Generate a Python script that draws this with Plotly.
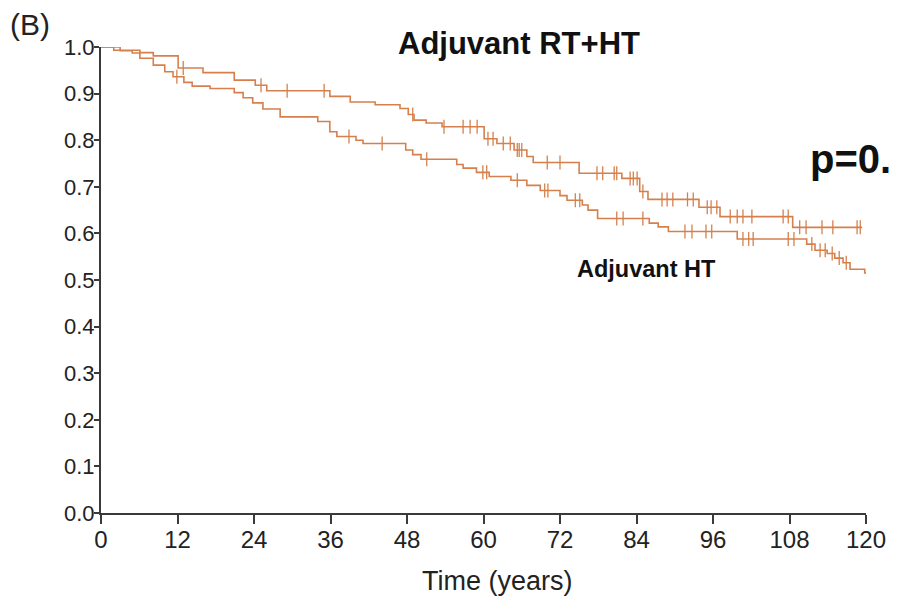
import numpy as np
import plotly.graph_objects as go

# ---------------- data ----------------
# Adjuvant RT + HT (upper curve): event times (months) and survival after each step
rt_times = [0, 2.0, 6.1, 8.2, 12.1, 16.0, 20.9, 24.2, 26.0, 35.9, 39.1, 43.0, 46.9, 48.2, 49.1,
            51.0, 53.5, 60.1, 62.1, 64.8, 66.8, 67.8, 75.0, 81.7, 84.5, 85.8, 93.8, 97.1, 108.5]
rt_surv = [1.0, 0.993, 0.988, 0.981, 0.955, 0.945, 0.929, 0.918, 0.906, 0.894, 0.882, 0.876, 0.868,
           0.855, 0.843, 0.837, 0.829, 0.803, 0.793, 0.779, 0.765, 0.752, 0.729, 0.718, 0.690,
           0.673, 0.656, 0.636, 0.613]
rt_end = 119.4
rt_censor = [12.9, 25.1, 29.2, 35.0, 48.9, 53.8, 56.8, 57.9, 59.0, 60.7, 61.5, 63.1, 64.2, 65.3,
             65.6, 66.0, 70.0, 72.0, 77.8, 78.7, 80.5, 80.9, 83.0, 83.5, 84.1, 85.0, 88.0, 88.8,
             89.7, 92.0, 92.9, 95.1, 95.7, 96.6, 98.7, 99.8, 100.7, 102.1, 107.0, 107.8, 109.6,
             110.6, 113.1, 114.8, 118.6, 119.1]

# Adjuvant HT (lower curve)
ht_times = [0, 3.0, 4.9, 6.1, 8.2, 10.0, 11.3, 13.0, 14.3, 17.1, 20.9, 22.3, 23.8, 25.4, 28.1,
            34.0, 35.9, 37.0, 40.0, 41.1, 47.8, 48.9, 50.2, 55.8, 56.8, 58.9, 60.9, 64.3, 66.8,
            68.9, 72.0, 73.1, 75.5, 76.4, 77.9, 86.0, 87.4, 89.0, 99.8, 110.7, 112.0, 113.9,
            115.1, 116.4, 117.5, 119.8]
ht_surv = [1.0, 0.992, 0.987, 0.976, 0.961, 0.947, 0.936, 0.924, 0.916, 0.911, 0.902, 0.891,
           0.880, 0.867, 0.850, 0.840, 0.818, 0.808, 0.800, 0.793, 0.779, 0.769, 0.759, 0.748,
           0.740, 0.731, 0.722, 0.714, 0.703, 0.692, 0.681, 0.671, 0.661, 0.650, 0.632, 0.622,
           0.614, 0.604, 0.588, 0.577, 0.564, 0.557, 0.547, 0.537, 0.523, 0.515]
ht_end = 120.0
ht_censor = [11.9, 38.9, 44.1, 51.1, 59.9, 60.5, 65.3, 69.6, 70.1, 74.4, 75.1, 80.9, 81.9, 85.0,
             91.6, 92.7, 94.9, 95.8, 100.7, 101.6, 102.3, 107.8, 108.7, 111.5, 112.8, 113.6,
             114.7, 115.8, 116.9]

x_ticks = [0, 12, 24, 36, 48, 60, 72, 84, 96, 108, 120]
y_ticks = [0.0, 0.1, 0.2, 0.3, 0.4, 0.5, 0.6, 0.7, 0.8, 0.9, 1.0]

# ---------------- styling ----------------
CURVE = "#d5804c"
AXIS = "#3a3a3a"
FONT = "Liberation Sans, Arial, sans-serif"


def step_value(times, surv, t):
    idx = np.searchsorted(np.asarray(times), t, side="right") - 1
    return surv[max(idx, 0)]


fig = go.Figure()
for times, surv, end, cens in [(rt_times, rt_surv, rt_end, rt_censor),
                               (ht_times, ht_surv, ht_end, ht_censor)]:
    xs = list(times) + [end]
    ys = list(surv) + [surv[-1]]
    fig.add_trace(go.Scatter(x=xs, y=ys, mode="lines", line=dict(color=CURVE, width=1.6, shape="hv"),
                             showlegend=False, hoverinfo="skip"))
    cy = [step_value(times, surv, c) for c in cens]
    fig.add_trace(go.Scatter(x=cens, y=cy, mode="markers",
                             marker=dict(symbol="line-ns", size=10, line=dict(color=CURVE, width=1.3)),
                             showlegend=False, hoverinfo="skip", cliponaxis=False))

fig.update_layout(
    width=897, height=600,
    margin=dict(l=101, r=31, t=47, b=87),
    paper_bgcolor="white", plot_bgcolor="white",
    font=dict(family=FONT, color="#222222"),
    xaxis=dict(range=[0, 120], tickvals=x_ticks, ticktext=[str(v) for v in x_ticks],
               showgrid=False, zeroline=False, showline=True, linecolor=AXIS, linewidth=2,
               ticks="outside", ticklen=9, tickwidth=2, tickcolor=AXIS, ticklabelstandoff=-5,
               tickfont=dict(size=24, family=FONT, color="#222222")),
    yaxis=dict(range=[0, 1], tickvals=y_ticks, ticktext=[f"{v:.1f}" for v in y_ticks],
               showgrid=False, zeroline=False, showline=True, linecolor=AXIS, linewidth=2,
               ticks="outside", ticklen=5, tickwidth=2, tickcolor=AXIS, ticklabelstandoff=-5,
               tickfont=dict(size=22, family=FONT, color="#222222")),
)

fig.add_annotation(text="(B)", xref="paper", yref="paper", x=-0.121, y=1.049,
                   xanchor="left", yanchor="middle", showarrow=False,
                   font=dict(size=30, family=FONT, color="#222222"))
fig.add_annotation(text="<b>Adjuvant RT+HT</b>", xref="paper", yref="paper", x=0.546, y=1.008,
                   xanchor="center", yanchor="middle", showarrow=False,
                   font=dict(size=31, family=FONT, color="#111111"))
fig.add_annotation(text="<b>p=0.</b>", xref="paper", yref="paper", x=0.924, y=0.76,
                   xanchor="left", yanchor="middle", showarrow=False,
                   font=dict(size=40, family=FONT, color="#111111"))
fig.add_annotation(text="<b>Adjuvant HT</b>", xref="paper", yref="paper", x=0.62, y=0.524,
                   xanchor="left", yanchor="middle", showarrow=False,
                   font=dict(size=23.5, family=FONT, color="#111111"))
fig.add_annotation(text="Time (years)", xref="paper", yref="paper", x=0.518, y=-0.145,
                   xanchor="center", yanchor="middle", showarrow=False,
                   font=dict(size=27, family=FONT, color="#222222"))

fig.write_html("out.html")
